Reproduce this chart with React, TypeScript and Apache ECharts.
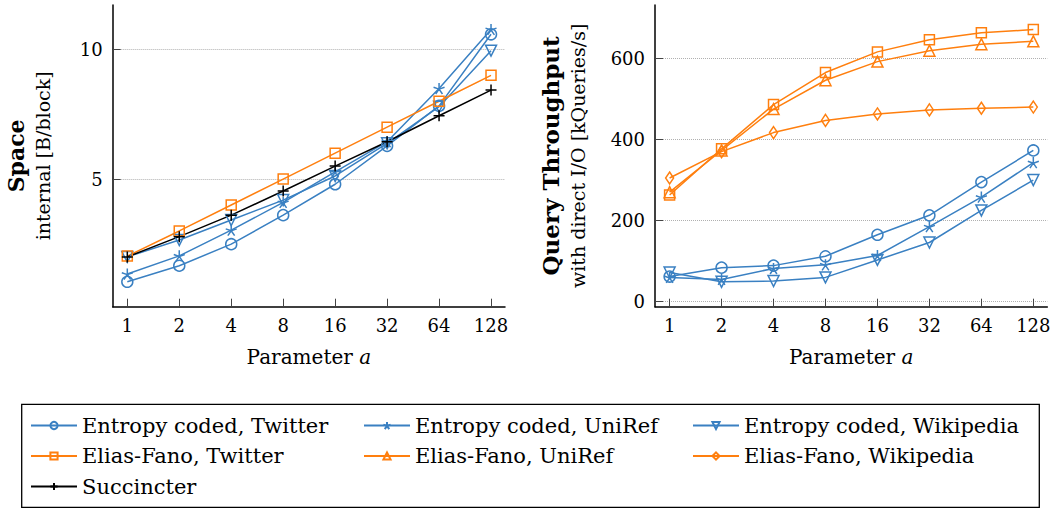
import React, { useEffect, useRef } from "react";
import * as echarts from "echarts";

// ---- data ----
const params = [1, 2, 4, 8, 16, 32, 64, 128];

// Space [B/block]
const spaceEntropyTwitter = [1.04, 1.66, 2.49, 3.61, 4.8, 6.28, 7.82, 10.58];
const spaceEntropyUniRef = [1.34, 2.04, 3.03, 4.1, 5.28, 6.44, 8.49, 10.77];
const spaceEntropyWikipedia = [2.0, 2.65, 3.42, 4.19, 5.12, 6.38, 7.79, 9.95];
const spaceEliasFanoTwitter = [2.03, 3.0, 4.0, 5.0, 6.0, 7.0, 8.0, 9.0];
const spaceSuccincter = [2.0, 2.78, 3.61, 4.54, 5.5, 6.44, 7.44, 8.43];

// Query throughput [kQueries/s]
const tpEntropyTwitter = [62, 84, 89, 112, 165, 213, 295, 373];
const tpEntropyUniRef = [60, 55, 82, 91, 114, 185, 258, 343];
const tpEntropyWikipedia = [72, 49, 51, 60, 103, 146, 225, 300];
const tpEliasFanoTwitter = [263, 377, 486, 565, 616, 646, 663, 671];
const tpEliasFanoUniRef = [270, 373, 475, 546, 592, 619, 635, 642];
const tpEliasFanoWikipedia = [305, 370, 417, 447, 463, 473, 477, 480];

const spaceTicks = [5, 10];
const tpTicks = [0, 200, 400, 600];

const N_EC_TW = "Entropy coded, Twitter";
const N_EC_UR = "Entropy coded, UniRef";
const N_EC_WP = "Entropy coded, Wikipedia";
const N_EF_TW = "Elias-Fano, Twitter";
const N_EF_UR = "Elias-Fano, UniRef";
const N_EF_WP = "Elias-Fano, Wikipedia";
const N_SUC = "Succincter";

const BLUE = "#3a80c2";
const ORANGE = "#ff7f0e";
const BLACK = "#000000";
const FONT = "'DejaVu Serif', serif";

const STAR = "path://M0,-10L0,0M9.51,-3.09L0,0M5.88,8.09L0,0M-5.88,8.09L0,0M-9.51,-3.09L0,0";
const PLUS = "path://M-10,0L10,0M0,-10L0,10";

const xPos = params.map((p) => Math.log2(p));

function mk(name: string, vals: number[], color: string, symbol: string, grid: number, extra: any = {}) {
  return {
    name,
    type: "line",
    xAxisIndex: grid,
    yAxisIndex: grid,
    data: xPos.map((x, i) => [x, vals[i]]),
    symbol,
    symbolSize: 11,
    lineStyle: { color, width: 1.5 },
    itemStyle: { color: "rgba(255,255,255,0)", borderColor: color, borderWidth: 1.5 },
    emphasis: { disabled: true },
    ...extra,
  };
}

const xTickVals = xPos;

function xAxis(gridIndex: number) {
  return {
    type: "value",
    gridIndex,
    min: -0.281,
    max: 7.269,
    axisLine: { show: true, onZero: false, lineStyle: { color: "#000", width: 1.5 } },
    axisTick: { show: true, inside: true, length: 8, customValues: xTickVals, lineStyle: { color: "#444", width: 1 } },
    axisLabel: {
      customValues: xTickVals,
      formatter: (v: number) => String(Math.round(Math.pow(2, v))),
      margin: 10,
      fontSize: 18,
      fontFamily: FONT,
      color: "#000",
    },
    splitLine: { show: false },
    name: "{n|Parameter }{i|a}",
    nameLocation: "middle",
    nameGap: 40,
    nameTextStyle: {
      fontFamily: FONT,
      fontSize: 20,
      rich: {
        n: { fontSize: 20, fontFamily: FONT, color: "#000" },
        i: { fontSize: 20, fontFamily: FONT, fontStyle: "italic", color: "#000" },
      },
    },
  };
}

function yAxis(gridIndex: number, min: number, max: number, ticks: number[], title: string, sub: string, gap: number, boldSize: number) {
  return {
    type: "value",
    gridIndex,
    min,
    max,
    axisLine: { show: true, onZero: false, lineStyle: { color: "#000", width: 1.5 } },
    axisTick: { show: true, inside: true, length: 8, customValues: ticks, lineStyle: { color: "#444", width: 1 } },
    axisLabel: { customValues: ticks, margin: 10, fontSize: 18, fontFamily: FONT, color: "#000" },
    splitLine: { show: true, lineStyle: { type: "dotted", color: "#b0b0b0", width: 1 } },
    name: `{b|${title}}\n{n|${sub}}`,
    nameLocation: "middle",
    nameRotate: 90,
    nameGap: gap,
    nameTextStyle: {
      fontFamily: FONT,
      rich: {
        b: { fontSize: boldSize, fontWeight: "bold", fontFamily: FONT, color: "#000", lineHeight: 27 },
        n: { fontSize: 19, fontFamily: FONT, color: "#000", lineHeight: 27 },
      },
    },
  };
}

function legend(left: number, names: string[]) {
  return {
    left,
    top: 415,
    orient: "vertical",
    padding: 0,
    itemGap: 9.5,
    itemWidth: 46,
    itemHeight: 9,
    selectedMode: false,
    data: names,
    textStyle: { fontSize: 21, fontFamily: FONT, color: "#000", lineHeight: 21 },
  };
}

export default function App() {
  const ref = useRef<HTMLDivElement>(null);
  useEffect(() => {
    if (!ref.current) return;
    const chart = echarts.init(ref.current, undefined, { renderer: "svg" });
    const option: any = {
      animation: false,
      backgroundColor: "#fff",
      textStyle: { fontFamily: FONT },
      grid: [
        { left: 112.7, top: 5, width: 392.3, height: 301.7, containLabel: false },
        { left: 655, top: 5, width: 392.3, height: 301.7, containLabel: false },
      ],
      xAxis: [xAxis(0), xAxis(1)],
      yAxis: [
        yAxis(0, 0.08, 11.71, spaceTicks, "Space", "internal [B/block]", 56, 22),
        yAxis(1, -12.3, 731.6, tpTicks, "Query Throughput", "with direct I/O [kQueries/s]", 64, 23),
      ],
      legend: [
        legend(30, [N_EC_TW, N_EF_TW, N_SUC]),
        legend(363, [N_EC_UR, N_EF_UR]),
        legend(692, [N_EC_WP, N_EF_WP]),
      ],
      graphic: [
        {
          type: "rect",
          shape: { x: 21.7, y: 404.3, width: 1017.6, height: 103 },
          style: { fill: "none", stroke: "#000", lineWidth: 1.3 },
          silent: true,
        },
      ],
      series: [
        mk(N_EC_TW, spaceEntropyTwitter, BLUE, "circle", 0),
        mk(N_EC_UR, spaceEntropyUniRef, BLUE, STAR, 0),
        mk(N_EC_WP, spaceEntropyWikipedia, BLUE, "triangle", 0, { symbolRotate: 180 }),
        mk(N_EF_TW, spaceEliasFanoTwitter, ORANGE, "rect", 0, { symbolSize: 10 }),
        mk(N_SUC, spaceSuccincter, BLACK, PLUS, 0),
        mk(N_EC_TW, tpEntropyTwitter, BLUE, "circle", 1),
        mk(N_EC_UR, tpEntropyUniRef, BLUE, STAR, 1),
        mk(N_EC_WP, tpEntropyWikipedia, BLUE, "triangle", 1, { symbolRotate: 180 }),
        mk(N_EF_TW, tpEliasFanoTwitter, ORANGE, "rect", 1, { symbolSize: 10 }),
        mk(N_EF_UR, tpEliasFanoUniRef, ORANGE, "triangle", 1),
        mk(N_EF_WP, tpEliasFanoWikipedia, ORANGE, "diamond", 1, { symbolSize: [8, 12] }),
      ],
    };
    chart.setOption(option);
    return () => chart.dispose();
  }, []);
  return (
    <div
      ref={ref}
      style={{ position: "absolute", left: 0, top: 0, width: 1056, height: 509, background: "#fff" }}
    />
  );
}
